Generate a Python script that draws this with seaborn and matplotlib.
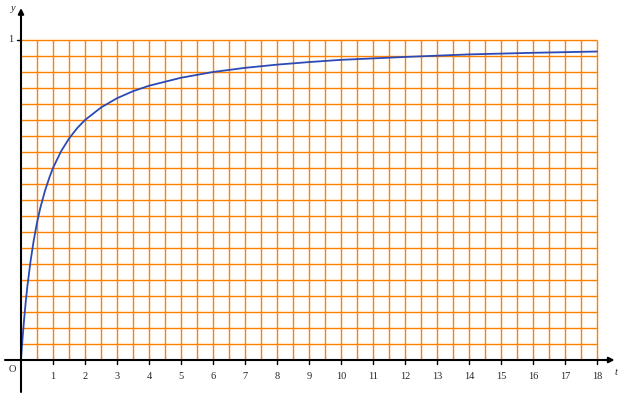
import numpy as np
import matplotlib.pyplot as plt
import seaborn as sns

# values
t_vals = [0, 0.025, 0.05, 0.1, 0.15, 0.2, 0.3, 0.4, 0.5, 0.6, 0.75, 0.9, 1,
          1.25, 1.5, 1.75, 2, 2.5, 3, 3.5, 4, 5, 6, 7, 8, 9, 10, 12, 14, 16, 18]
y_vals = [0, 0.036, 0.070, 0.130, 0.184, 0.231, 0.310, 0.375, 0.429, 0.474,
          0.529, 0.574, 0.600, 0.652, 0.692, 0.724, 0.750, 0.789, 0.818, 0.840,
          0.857, 0.882, 0.900, 0.913, 0.923, 0.931, 0.938, 0.947, 0.955, 0.960,
          0.964]
x_tick_labels = [str(i) for i in range(1, 19)]

sns.set_style("white")
plt.rcParams['font.family'] = ['Liberation Serif', 'DejaVu Serif']

fig = plt.figure(figsize=(6.18, 3.96), dpi=100)
ax = fig.add_axes([0, 0, 1, 1])
ax.set_xlim(-0.65625, 18.65625)
ax.set_ylim(-0.1125, 1.125)
ax.axis("off")

orange = "#ff8000"
ax.vlines(np.arange(0.5, 18.01, 0.5), 0, 1, color=orange, lw=1.0, zorder=1)
ax.hlines(np.arange(0.05, 1.001, 0.05), 0, 18, color=orange, lw=1.0, zorder=1)

sns.lineplot(x=t_vals, y=y_vals, ax=ax, color="#2c4ab5", lw=1.3, zorder=3)

# axes with arrows
ax.annotate("", xy=(18.55, 0), xytext=(-0.5, 0),
            arrowprops=dict(arrowstyle="-|>", color="black", lw=1.5,
                            mutation_scale=8, shrinkA=0, shrinkB=0), zorder=4)
ax.annotate("", xy=(0, 1.1), xytext=(0, -0.1),
            arrowprops=dict(arrowstyle="-|>", color="black", lw=1.5,
                            mutation_scale=8, shrinkA=0, shrinkB=0), zorder=4)

fs = 7.5
for i, lab in enumerate(x_tick_labels, start=1):
    ax.plot([i, i], [0, -0.012], color="black", lw=1.0, zorder=4)
    ax.text(i, -0.052, lab, ha="center", va="center", fontsize=fs)
ax.plot([0, -0.12], [1, 1], color="black", lw=1.0, zorder=4)
ax.text(-0.33, 1.0, "1", ha="center", va="center", fontsize=fs)
ax.text(-0.27, -0.03, "O", ha="center", va="center", fontsize=fs)
ax.text(-0.23, 1.098, "y", ha="center", va="center", fontsize=fs, style="italic")
ax.text(18.55, -0.04, "t", ha="left", va="center", fontsize=fs, style="italic")

plt.savefig("out.png", dpi=100)
